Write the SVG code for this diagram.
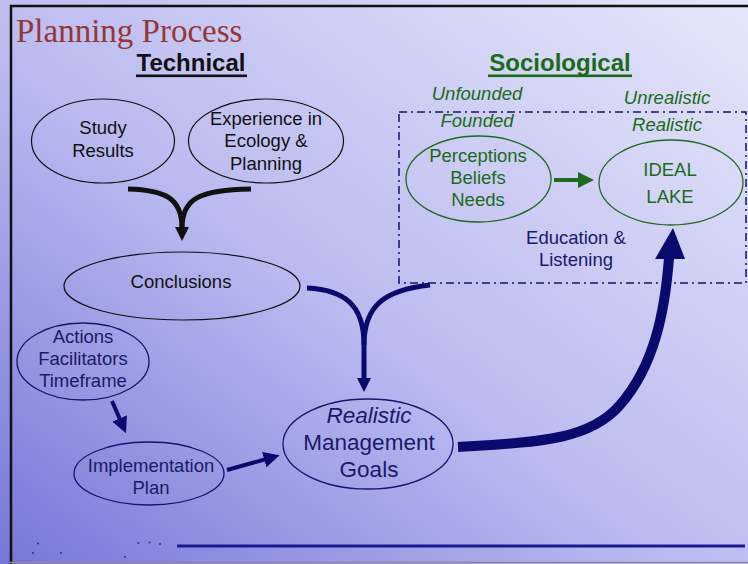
<svg xmlns="http://www.w3.org/2000/svg" width="748" height="564" viewBox="0 0 748 564">
<defs>
<linearGradient id="bg" x1="0" y1="1" x2="1" y2="0">
<stop offset="0" stop-color="#7676d8"/>
<stop offset="0.45" stop-color="#babaf0"/>
<stop offset="1" stop-color="#e6e6fb"/>
</linearGradient>
<marker id="gh" markerWidth="4" markerHeight="4" refX="2" refY="2" orient="auto" markerUnits="strokeWidth">
<path d="M0,0 L4,2 L0,4 z" fill="#1e6b1e"/>
</marker>
<marker id="nh" markerWidth="4" markerHeight="4" refX="1.5" refY="2" orient="auto" markerUnits="strokeWidth">
<path d="M0,0 L4,2 L0,4 z" fill="#0a0a6e"/>
</marker>
</defs>
<style>
.t{font-family:"Liberation Sans",Arial,sans-serif;font-size:18.5px;text-anchor:middle}
.big{font-size:22.5px}
.blk{fill:#111}
.nav{fill:#1a1a6a}
.grn{fill:#1a6b1a}
.it{font-style:italic}
.eb{fill:none;stroke:#111;stroke-width:1.2}
.en{fill:none;stroke:#14146e;stroke-width:1.3}
.eg{fill:none;stroke:#1e6b1e;stroke-width:1.3}
.hd{font-family:"Liberation Sans",Arial,sans-serif;font-size:24px;font-weight:bold;text-anchor:middle}
</style>
<rect x="0" y="0" width="748" height="564" fill="url(#bg)"/>
<line x1="10" y1="6" x2="748" y2="6" stroke="#111" stroke-width="2.5"/>
<line x1="11" y1="5" x2="11" y2="564" stroke="#111" stroke-width="2.5"/>
<line x1="10" y1="562.5" x2="748" y2="562.5" stroke="#8a8a9a" stroke-width="1.5"/>

<text x="16" y="42" font-family="'Liberation Serif','Times New Roman',serif" font-size="33" fill="#953735">Planning Process</text>
<text class="hd blk" x="191" y="71">Technical</text>
<rect x="136" y="74.5" width="111" height="2.6" fill="#111"/>
<text class="hd" x="560" y="71" fill="#1a6b1a">Sociological</text>
<rect x="488" y="74.5" width="144" height="2.6" fill="#1a6b1a"/>

<rect x="399" y="112" width="347" height="171" fill="none" stroke="#14146e" stroke-width="1.5" stroke-dasharray="8,4,2,4"/>

<g id="connectors">
<path d="M128,189 C165,190 182,198 182,228" fill="none" stroke="#111" stroke-width="5"/>
<path d="M251,189 C200,190 182,198 182,228" fill="none" stroke="#111" stroke-width="5"/>
<path d="M175,227 L189,227 L182,241 z" fill="#111"/>
<path d="M307,288 C345,290 364,305 364,345 L364,380" fill="none" stroke="#0a0a6e" stroke-width="5"/>
<path d="M430,285 C385,290 364,305 364,345" fill="none" stroke="#0a0a6e" stroke-width="5"/>
<path d="M357,378 L371,378 L364,392 z" fill="#0a0a6e"/>
<line x1="112" y1="401" x2="122" y2="424" stroke="#0a0a6e" stroke-width="4" marker-end="url(#nh)"/>
<line x1="227" y1="470" x2="270" y2="458" stroke="#0a0a6e" stroke-width="4" marker-end="url(#nh)"/>
<line x1="554" y1="180" x2="586" y2="180" stroke="#1e6b1e" stroke-width="4" marker-end="url(#gh)"/>
<path d="M458,447 C540,442 590,440 620,405 C655,365 665,310 669,258" fill="none" stroke="#0a0a6e" stroke-width="10"/>
<path d="M655,259 L685,259 L673,228 z" fill="#0a0a6e"/>
</g>

<g id="study">
<ellipse class="eb" cx="103" cy="141" rx="71.5" ry="42"/>
<text class="t blk" x="103" y="134">Study</text>
<text class="t blk" x="103" y="157">Results</text>
</g>
<g id="experience">
<ellipse class="eb" cx="266" cy="141" rx="77.5" ry="42"/>
<text class="t blk" x="266" y="125">Experience in</text>
<text class="t blk" x="266" y="147">Ecology &amp;</text>
<text class="t blk" x="266" y="170">Planning</text>
</g>
<g id="conclusions">
<ellipse class="eb" cx="182" cy="286" rx="118" ry="34"/>
<text class="t blk" x="181" y="288">Conclusions</text>
</g>
<g id="actions">
<ellipse class="en" cx="83" cy="361.5" rx="66" ry="38.5"/>
<text class="t nav" x="83" y="343">Actions</text>
<text class="t nav" x="83" y="365">Facilitators</text>
<text class="t nav" x="83" y="387">Timeframe</text>
</g>
<g id="implementation">
<ellipse class="en" cx="149" cy="473.5" rx="75" ry="31.5"/>
<text class="t nav" x="151" y="472">Implementation</text>
<text class="t nav" x="151" y="494">Plan</text>
</g>
<g id="goals">
<ellipse class="en" cx="368" cy="444" rx="85" ry="45"/>
<text class="t big nav it" x="369" y="423">Realistic</text>
<text class="t big nav" x="369" y="450">Management</text>
<text class="t big nav" x="369" y="477">Goals</text>
</g>
<g id="perceptions">
<ellipse class="eg" cx="478.5" cy="179" rx="72.5" ry="43"/>
<text class="t grn" x="478" y="162">Perceptions</text>
<text class="t grn" x="478" y="184">Beliefs</text>
<text class="t grn" x="478" y="206">Needs</text>
</g>
<g id="ideal">
<ellipse class="eg" cx="671" cy="182.5" rx="72" ry="42.5"/>
<text class="t grn" x="670" y="176">IDEAL</text>
<text class="t grn" x="670" y="203">LAKE</text>
</g>
<g id="labels">
<text class="t grn it" x="477" y="100">Unfounded</text>
<text class="t grn it" x="477" y="127">Founded</text>
<text class="t grn it" x="667" y="104">Unrealistic</text>
<text class="t grn it" x="667" y="131">Realistic</text>
<text class="t nav" x="576" y="244">Education &amp;</text>
<text class="t nav" x="576" y="266">Listening</text>
</g>

<line x1="177" y1="546" x2="745" y2="546" stroke="#1a1a90" stroke-width="3"/>
<g fill="#2a2a90">
<circle cx="38" cy="543.5" r="1"/><circle cx="33" cy="553" r="0.9"/><circle cx="61" cy="553" r="0.9"/>
<circle cx="138.5" cy="543" r="1"/><circle cx="149.5" cy="542.5" r="1"/><circle cx="160" cy="544" r="1"/>
<circle cx="125" cy="557" r="0.9"/>
</g>
</svg>
